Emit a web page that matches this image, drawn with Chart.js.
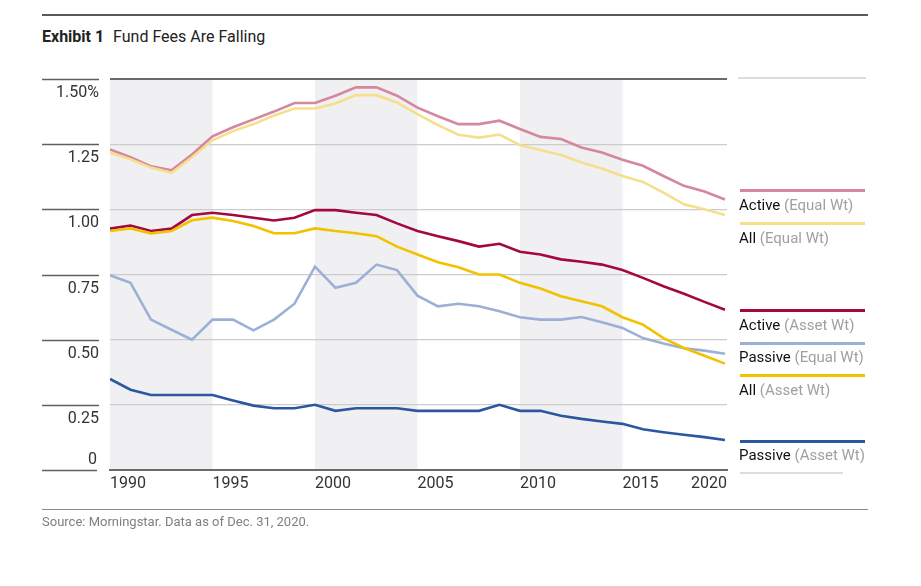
<!DOCTYPE html>
<html>
<head>
<meta charset="utf-8">
<script src="https://cdn.jsdelivr.net/npm/chart.js@4.4.0/dist/chart.umd.min.js"></script>
<style>
  html, body { margin: 0; padding: 0; background: #fff; }
  body { width: 921px; height: 586px; position: relative; overflow: hidden;
         font-family: 'Roboto', sans-serif; color: #222; }
  #wrap { position: absolute; left: 0; top: 0; width: 921px; height: 586px; }
  .rule { position: absolute; left: 42px; width: 826px; }
  .title { position: absolute; left: 42px; top: 27px; font-size: 16px; white-space: nowrap; }
  .title b { font-weight: bold; margin-right: 5px; }
  .source { position: absolute; left: 42px; top: 514px; font-size: 13px; color: #808080; }
  .key { position: absolute; left: 740px; width: 125px; height: 3px; }
  .keytext { position: absolute; left: 739px; font-size: 15px; color: #111; white-space: nowrap; }
  .keytext span { color: #a0a0a0; }
</style>
</head>
<body>
<div class="rule" style="top:14px;height:2px;background:#5a5a5a"></div>
<div class="title"><b>Exhibit 1</b> Fund Fees Are Falling</div>
<div id="wrap"><canvas id="chart" width="921" height="586"></canvas></div>
<div class="rule" style="top:509px;height:1px;background:#8a8a8a"></div>
<div class="source">Source: Morningstar. Data as of Dec. 31, 2020.</div>

<div class="key" style="top:77px;height:2px;width:128px;left:738px;background:#dcdcdc"></div>
<div class="key" style="top:189px;background:#d4879e"></div>
<div class="keytext" style="top:196px">Active <span>(Equal Wt)</span></div>
<div class="key" style="top:222px;background:#f5df8c"></div>
<div class="keytext" style="top:229px">All <span>(Equal Wt)</span></div>
<div class="key" style="top:309px;background:#a3093f"></div>
<div class="keytext" style="top:316px">Active <span>(Asset Wt)</span></div>
<div class="key" style="top:342px;background:#9cb0d6"></div>
<div class="keytext" style="top:348px">Passive <span>(Equal Wt)</span></div>
<div class="key" style="top:374px;background:#f2c100"></div>
<div class="keytext" style="top:381px">All <span>(Asset Wt)</span></div>
<div class="key" style="top:440px;background:#2b57a0"></div>
<div class="keytext" style="top:446px">Passive <span>(Asset Wt)</span></div>
<div class="key" style="top:472px;height:2px;width:103px;background:#dcdcdc"></div>

<script>
// Expense ratios (%)
const years = [1990, 1991, 1992, 1993, 1994, 1995, 1996, 1997, 1998, 1999,
               2000, 2001, 2002, 2003, 2004, 2005, 2006, 2007, 2008, 2009,
               2010, 2011, 2012, 2013, 2014, 2015, 2016, 2017, 2018, 2019, 2020];

const activeEqual = [1.23, 1.20, 1.165, 1.15, 1.21, 1.28, 1.315, 1.345, 1.375, 1.408,
                     1.408, 1.436, 1.468, 1.468, 1.436, 1.39, 1.357, 1.327, 1.327, 1.34,
                     1.308, 1.278, 1.27, 1.237, 1.218, 1.19, 1.167, 1.128, 1.09, 1.068, 1.038];
const allEqual = [1.218, 1.192, 1.16, 1.14, 1.20, 1.265, 1.30, 1.327, 1.36, 1.387,
                  1.387, 1.406, 1.438, 1.438, 1.41, 1.365, 1.323, 1.286, 1.275, 1.287,
                  1.246, 1.228, 1.208, 1.18, 1.157, 1.128, 1.105, 1.064, 1.019, 1.0, 0.978];
const activeAsset = [0.926, 0.938, 0.917, 0.926, 0.978, 0.987, 0.978, 0.968, 0.957, 0.968,
                     0.997, 0.997, 0.987, 0.978, 0.946, 0.917, 0.897, 0.878, 0.857, 0.868,
                     0.837, 0.827, 0.808, 0.799, 0.788, 0.767, 0.737, 0.705, 0.676, 0.645, 0.615];
const allAsset = [0.917, 0.927, 0.908, 0.917, 0.958, 0.968, 0.955, 0.936, 0.908, 0.908,
                  0.927, 0.917, 0.908, 0.897, 0.857, 0.827, 0.797, 0.778, 0.75, 0.75,
                  0.718, 0.696, 0.667, 0.647, 0.628, 0.586, 0.558, 0.506, 0.468, 0.438, 0.408];
const passiveEqual = [0.747, 0.718, 0.577, 0.538, 0.50, 0.577, 0.577, 0.536, 0.577, 0.638,
                      0.78, 0.699, 0.718, 0.788, 0.767, 0.669, 0.628, 0.638, 0.628, 0.609,
                      0.586, 0.577, 0.577, 0.587, 0.567, 0.545, 0.506, 0.485, 0.467, 0.458, 0.446];
const passiveAsset = [0.349, 0.308, 0.288, 0.288, 0.288, 0.288, 0.267, 0.247, 0.237, 0.237,
                      0.25, 0.227, 0.237, 0.237, 0.237, 0.227, 0.227, 0.227, 0.227, 0.25,
                      0.227, 0.227, 0.208, 0.196, 0.186, 0.177, 0.156, 0.145, 0.135, 0.126, 0.115];

const xTicks = [1990, 1995, 2000, 2005, 2010, 2015, 2020];
const yTicks = [0, 0.25, 0.5, 0.75, 1.0, 1.25, 1.5];
// shaded half-decades
const bands = [[1990, 1995], [2000, 2005], [2010, 2015]];

const COLORS = {
    activeEqual: '#d4879e',
    allEqual: '#f5df8c',
    activeAsset: '#a3093f',
    allAsset: '#f2c100',
    passiveEqual: '#9cb0d6',
    passiveAsset: '#2b57a0',
    band: '#f0f0f3',
    gridLight: '#cccccc',
    gridDark: '#6a6a6a',
};

const FONT = "'Roboto', sans-serif";
Chart.defaults.font.family = FONT;

function series(values, color) {
    return {
        data: values.map((v, i) => ({ x: years[i], y: v })),
        borderColor: color,
        borderWidth: 2.6,
        pointRadius: 0,
        tension: 0,
        fill: false,
    };
}

// gray bands behind everything, dark tick stubs left of the plot, x labels
const decor = {
    id: 'decor',
    beforeDraw(chart) {
        const { ctx, chartArea, scales } = chart;
        ctx.save();
        ctx.fillStyle = COLORS.band;
        bands.forEach(([a, b]) => {
            const x1 = scales.x.getPixelForValue(a);
            const x2 = scales.x.getPixelForValue(b);
            ctx.fillRect(x1, chartArea.top, x2 - x1, chartArea.bottom - chartArea.top);
        });
        ctx.restore();
    },
    afterDraw(chart) {
        const { ctx, chartArea, scales } = chart;
        ctx.save();
        ctx.strokeStyle = '#5f5f5f';
        ctx.lineWidth = 1.5;
        yTicks.forEach(v => {
            const y = Math.round(scales.y.getPixelForValue(v)) + 0.5;
            ctx.beginPath();
            ctx.moveTo(42, y);
            ctx.lineTo(chartArea.left - (v === 0 ? 13 : 11), y);
            ctx.stroke();
        });
        ctx.fillStyle = '#333';
        ctx.font = '16px ' + FONT;
        ctx.textBaseline = 'middle';
        // the zero label sits above its line, unlike the others
        ctx.textAlign = 'right';
        ctx.fillText('0', chartArea.left - 13, scales.y.getPixelForValue(0) - 10);
        xTicks.forEach((v, i) => {
            const x = scales.x.getPixelForValue(v);
            const last = i === xTicks.length - 1;
            ctx.textAlign = last ? 'right' : 'left';
            ctx.fillText(String(v), last ? chartArea.right : x, chartArea.bottom + 14);
        });
        ctx.restore();
    }
};

new Chart(document.getElementById('chart'), {
    type: 'line',
    data: {
        datasets: [
            series(allEqual, COLORS.allEqual),
            series(activeEqual, COLORS.activeEqual),
            series(allAsset, COLORS.allAsset),
            series(activeAsset, COLORS.activeAsset),
            series(passiveEqual, COLORS.passiveEqual),
            series(passiveAsset, COLORS.passiveAsset),
        ]
    },
    options: {
        responsive: false,
        animation: false,
        layout: { padding: { left: 42, right: 194, top: 79, bottom: 116 } },
        plugins: { legend: { display: false }, tooltip: { enabled: false } },
        scales: {
            x: {
                type: 'linear',
                min: 1990,
                max: 2020.1,
                afterBuildTicks: (scale) => { scale.ticks = xTicks.map(v => ({ value: v })); },
                afterFit: (scale) => { scale.height = 0; },
                ticks: { display: false },
                grid: { display: false },
                border: { display: true, color: '#6a6a6a', width: 2 },
            },
            y: {
                min: 0,
                max: 1.5,
                afterBuildTicks: (scale) => { scale.ticks = yTicks.map(v => ({ value: v })); },
                afterFit: (scale) => { scale.width = 68; },
                border: { display: false },
                grid: {
                    drawTicks: false,
                    color: (c) => c.tick && c.tick.value === 1.5 ? COLORS.gridDark : COLORS.gridLight,
                    lineWidth: (c) => c.tick && c.tick.value === 1.5 ? 2 : 1.2,
                },
                ticks: {
                    padding: 11,
                    labelOffset: 14,
                    color: '#333',
                    font: { size: 16 },
                    callback: (v) => v === 1.5 ? '1.50%' : v === 0 ? '' : v.toFixed(2),
                },
            },
        },
    },
    plugins: [decor],
});
</script>
</body>
</html>
